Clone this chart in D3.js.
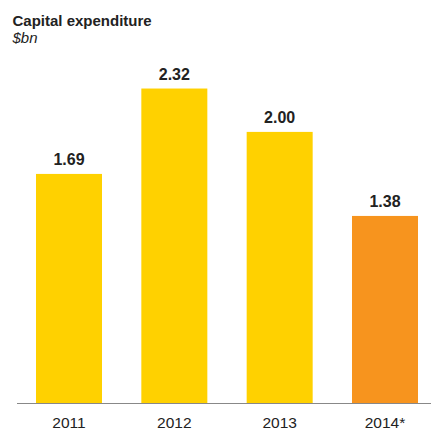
<!DOCTYPE html>
<html>
<head>
<meta charset="utf-8">
<script src="https://cdn.jsdelivr.net/npm/d3@7/dist/d3.min.js"></script>
<style>
  html, body { margin: 0; padding: 0; background: #fff; }
  svg { display: block; font-family: Arial, "Liberation Sans", sans-serif; }
</style>
</head>
<body>
<script>
// Capital expenditure by year, $bn
const years = ["2011", "2012", "2013", "2014*"];
const values = [1.69, 2.32, 2.00, 1.38];
const barColors = ["#FFD100", "#FFD100", "#FFD100", "#F7941E"];

const width = 431, height = 430;
const baseline = 403;

const svg = d3.select("body").append("svg")
  .attr("width", width)
  .attr("height", height);

const x = d3.scaleBand()
  .domain(years)
  .range([16.33, 437.67])
  .paddingInner(0.3734)
  .paddingOuter(0.1867);

const y = d3.scaleLinear()
  .domain([0, 2.5])
  .range([baseline, baseline - 2.5 * 135.55]);

// Title block
svg.append("text")
  .attr("x", 12.5).attr("y", 26.3)
  .attr("font-size", 15).attr("font-weight", "bold").attr("fill", "#222")
  .text("Capital expenditure");
svg.append("text")
  .attr("x", 12.5).attr("y", 43)
  .attr("font-size", 15).attr("font-style", "italic").attr("fill", "#222")
  .text("$bn");

// Bars
svg.selectAll("rect.bar")
  .data(values)
  .join("rect")
  .attr("class", "bar")
  .attr("x", (d, i) => x(years[i]))
  .attr("width", x.bandwidth())
  .attr("y", d => y(d))
  .attr("height", d => y(0) - y(d))
  .attr("fill", (d, i) => barColors[i]);

// Value labels
svg.selectAll("text.val")
  .data(values)
  .join("text")
  .attr("class", "val")
  .attr("x", (d, i) => x(years[i]) + x.bandwidth() / 2)
  .attr("y", d => y(d) - 9)
  .attr("text-anchor", "middle")
  .attr("font-size", 16).attr("font-weight", "bold").attr("fill", "#222")
  .text(d => d.toFixed(2));

// Category axis
const axis = svg.append("g")
  .attr("transform", `translate(0,${baseline})`)
  .call(d3.axisBottom(x).tickSize(0).tickPadding(0));
axis.select(".domain").remove();
axis.selectAll("text")
  .attr("dy", null)
  .attr("y", 25)
  .attr("font-size", 15.5).attr("fill", "#222")
  .attr("font-family", "Arial, 'Liberation Sans', sans-serif");

svg.append("line")
  .attr("x1", 17).attr("x2", width)
  .attr("y1", baseline + 0.5).attr("y2", baseline + 0.5)
  .attr("stroke", "#888").attr("stroke-width", 1);
</script>
</body>
</html>
